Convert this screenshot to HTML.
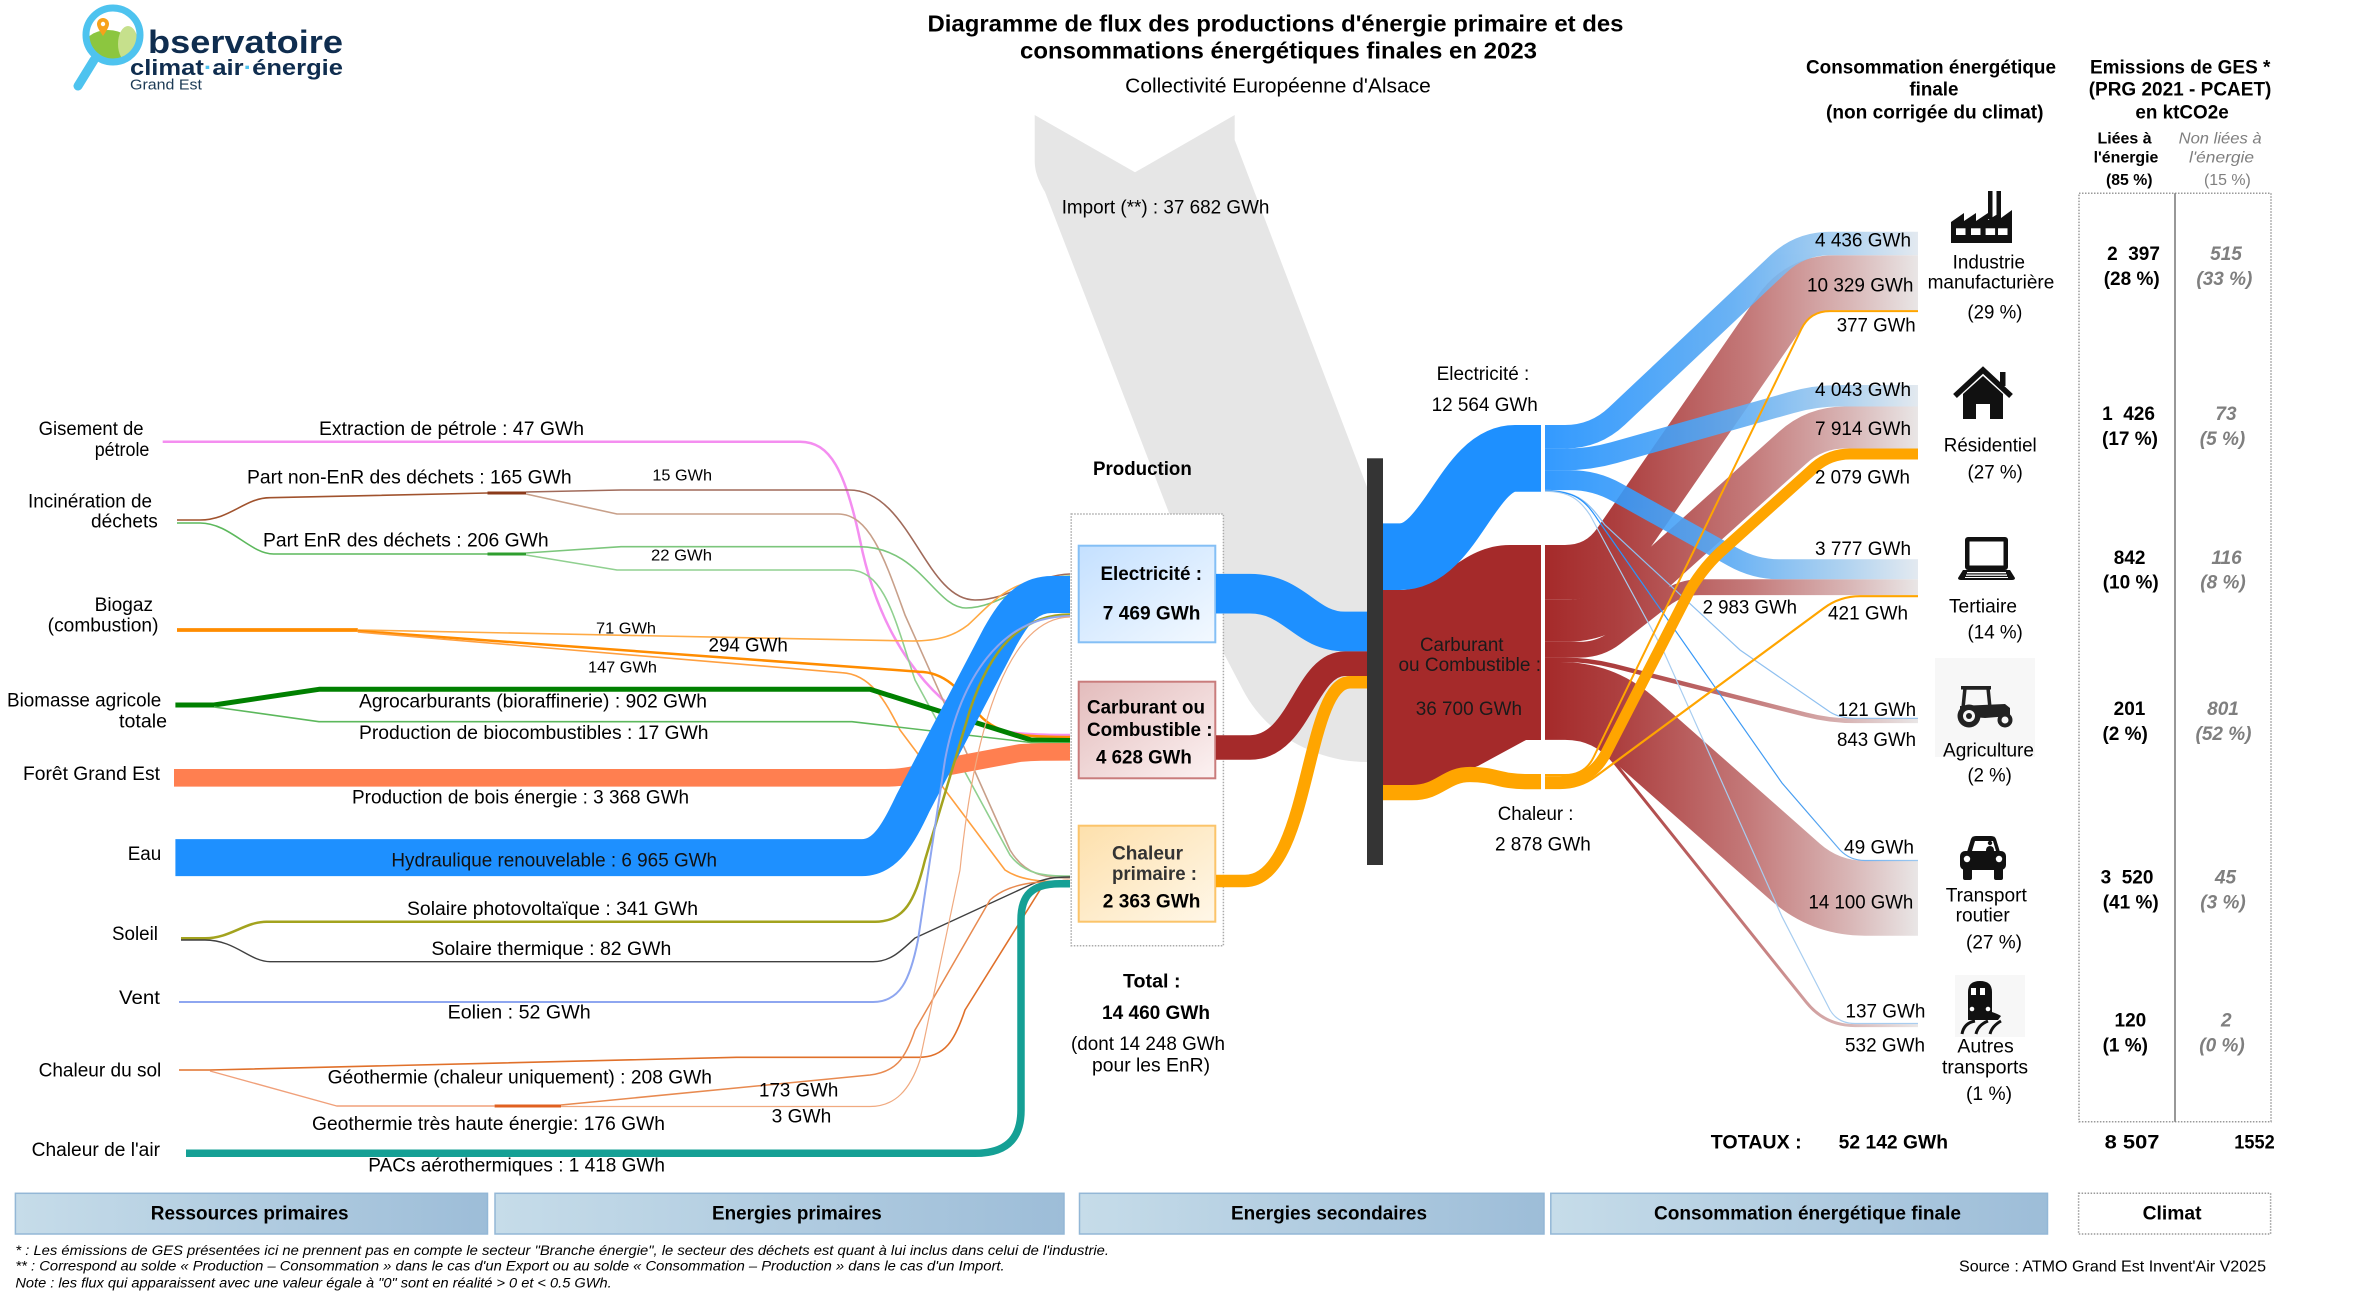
<!DOCTYPE html>
<html><head><meta charset="utf-8"><style>
html,body{margin:0;padding:0;background:#fff;}
svg{display:block}
text{font-family:"Liberation Sans",Arial,sans-serif;font-size:19px;fill:#000}
.b{font-weight:bold}
.s{font-size:16px}
.h{font-size:16px}
.g{fill:#7f7f7f;font-style:italic}
.fn{font-size:13.5px;font-style:italic}
</style></head><body>
<svg width="2370" height="1299" viewBox="0 0 2370 1299" xmlns="http://www.w3.org/2000/svg">
<defs>
<linearGradient id="gr" gradientUnits="userSpaceOnUse" x1="1545" y1="0" x2="1918" y2="0">
<stop offset="0" stop-color="#a52a2a"/><stop offset="0.2" stop-color="#ad4040"/><stop offset="0.55" stop-color="#c47a7a"/><stop offset="0.82" stop-color="#d9b7b7"/><stop offset="1" stop-color="#e9e6e6"/></linearGradient>
<linearGradient id="gb" gradientUnits="userSpaceOnUse" x1="1545" y1="0" x2="1918" y2="0">
<stop offset="0" stop-color="#1e90ff"/><stop offset="0.5" stop-color="#5aaaf3"/><stop offset="0.8" stop-color="#a6cdee"/><stop offset="1" stop-color="#e0e7ee"/></linearGradient>
<linearGradient id="gt" gradientUnits="userSpaceOnUse" x1="1545" y1="0" x2="1918" y2="0">
<stop offset="0" stop-color="#1e90ff"/><stop offset="0.7" stop-color="#4a9ef0"/><stop offset="1" stop-color="#9cc8f0"/></linearGradient>
<linearGradient id="fbox" x1="0" y1="0" x2="1" y2="0"><stop offset="0" stop-color="#c6dce9"/><stop offset="1" stop-color="#9dbdd8"/></linearGradient>
<linearGradient id="elb" x1="0" y1="0" x2="1" y2="1"><stop offset="0" stop-color="#c4e0ff"/><stop offset="1" stop-color="#f3f9ff"/></linearGradient>
<linearGradient id="cab" x1="0" y1="0" x2="1" y2="1"><stop offset="0" stop-color="#e3bcbc"/><stop offset="1" stop-color="#fcf2f2"/></linearGradient>
<linearGradient id="chb" x1="0" y1="0" x2="1" y2="1"><stop offset="0" stop-color="#fde0ac"/><stop offset="1" stop-color="#fff7e8"/></linearGradient>
<clipPath id="lc"><circle cx="113" cy="35" r="24"/></clipPath>
</defs>

<!-- LOGO -->
<g>
<g clip-path="url(#lc)">
<rect x="85" y="8" width="60" height="60" fill="#fff"/>
<ellipse cx="108" cy="50" rx="26" ry="20" fill="#8cc63f"/>
<ellipse cx="128" cy="44" rx="10" ry="18" fill="#c6e08c"/>
</g>
<circle cx="113" cy="35" r="27" fill="none" stroke="#4ec3ef" stroke-width="7"/>
<line x1="94" y1="60" x2="78" y2="86" stroke="#4ec3ef" stroke-width="9" stroke-linecap="round"/>
<path d="M103,36 C99,30 97,27 97,24 A6,6 0 0 1 109,24 C109,27 107,30 103,36 Z" fill="#f7a21b"/>
<circle cx="103" cy="24" r="2.2" fill="#fff"/>
<text class="b" x="148" y="53" style="font-size:32px;fill:#0f2d4f" textLength="195" lengthAdjust="spacingAndGlyphs">bservatoire</text>
<text class="b" x="130" y="75" style="font-size:22px;fill:#0f2d4f" textLength="213" lengthAdjust="spacingAndGlyphs">climat<tspan style="fill:#4ec3ef">·</tspan>air<tspan style="fill:#4ec3ef">·</tspan>énergie</text>
<text x="130" y="89.5" style="font-size:15px;fill:#1c3a55" textLength="72" lengthAdjust="spacingAndGlyphs">Grand Est</text>
</g>

<!-- TITLE -->
<text class="b" x="1275.5" y="31.7" text-anchor="middle" style="font-size:23px" textLength="696" lengthAdjust="spacingAndGlyphs">Diagramme de flux des productions d'énergie primaire et des</text>
<text class="b" x="1278.5" y="58.3" text-anchor="middle" style="font-size:23px" textLength="517" lengthAdjust="spacingAndGlyphs">consommations énergétiques finales en 2023</text>
<text x="1278" y="92.7" text-anchor="middle" style="font-size:20px" textLength="305.6" lengthAdjust="spacingAndGlyphs">Collectivité Européenne d'Alsace</text>

<!-- IMPORT grey -->
<path d="M1034.7,115 L1135,172.3 L1234.7,115 L1234.7,140 L1367,487 L1367,762 C1320,762 1268,738 1243,690 L1222,650 L1045,192 C1037,178 1034.7,170 1034.7,160 Z" fill="#e6e6e6"/>
<text x="1061.7" y="213.3" textLength="207.7" lengthAdjust="spacingAndGlyphs">Import (**) : 37 682 GWh</text>

<!-- Production container -->
<rect x="1071.2" y="514" width="152.2" height="431.7" fill="#fff" stroke="#aaa" stroke-width="1.5" stroke-dasharray="1.5,1.5"/>

<!-- LEFT FLOWS -->
<g fill="none" stroke-linejoin="round">
<!-- pink extraction -->
<path d="M162.7,441.7 L800,441.7 C830,441.7 845,470 860,540 C880,640 930,700 980,725 C1010,735 1040,735 1070,735" stroke="#f48ef0" stroke-width="2.5"/>
<!-- incineration brown -->
<path d="M177,520 L200,520 C230,520 245,497.7 270,497.7 L487.5,493" stroke="#a0522d" stroke-width="1.6"/>
<path d="M487.5,493 L526,493" stroke="#8b3a1a" stroke-width="3"/>
<path d="M526,492 L621,490 L849,490 C910,490 925,600 975,600 C1010,600 1035,575 1070,574" stroke="#a06a5a" stroke-width="1.6"/>
<path d="M526,494 L617,514 L838,514 C870,514 885,560 905,615 L1010,850 C1025,875 1045,878 1070,878" stroke="#c8a08a" stroke-width="1.6"/>
<!-- incineration green -->
<path d="M177,523 L200,523 C230,523 250,554 273.6,554 L487.5,554" stroke="#5cb85c" stroke-width="1.6"/>
<path d="M487.5,554 L526,554" stroke="#2e9e2e" stroke-width="3"/>
<path d="M526,553 L621,546.7 L858.9,546.7 C920,546.7 935,608 966,608 C1000,608 1030,576 1070,576" stroke="#7cc67c" stroke-width="1.6"/>
<path d="M526,555 L617,570 L848.8,570 C885,570 895,620 915,680 L1010,855 C1025,875 1045,876 1070,876" stroke="#90d090" stroke-width="1.6"/>
<!-- biogaz -->
<path d="M177,630 L357.8,630" stroke="#ff8c00" stroke-width="3.7"/>
<path d="M357.8,630 L912,641 C940,641 955,635 968,625 C995,600 1010,577 1070,577" stroke="#ffaa44" stroke-width="1.6"/>
<path d="M357.8,631 L919,671.7 C945,672 960,690 975,710 C995,735 1020,737 1070,737" stroke="#ff8c00" stroke-width="2.5"/>
<path d="M357.8,632 L841.8,672.7 C870,674 885,700 900,730 L1005,870 C1020,880 1040,882 1070,882" stroke="#ffa040" stroke-width="1.6"/>
<!-- biomasse -->
<path d="M175.4,705 L214,705 L319,689.3 L870,689.3 L1031,740 L1070,740.5" stroke="#008000" stroke-width="5"/>
<path d="M214,707 L319,721.7 L852,721.7 L1031,742.5 L1070,743" stroke="#5cb85c" stroke-width="1.6"/>
<!-- foret -->
<path d="M174,777.8 L885,777.8 C905,777.8 915,775 940,768 L1020,753 C1035,751.8 1045,751.8 1070,751.8" stroke="#ff7f50" stroke-width="17.7"/>
<!-- eau -->
<path d="M175.4,857.6 L862,857.6 C885,857.6 898,835 913,803 L1000,637 C1015,610 1028,594.5 1052,594.5 L1070,594.5" stroke="#1e90ff" stroke-width="37"/>
<!-- soleil -->
<path d="M181,938.3 L205,938.3 C230,938.3 245,921.7 266.6,921.7 L875,921.7 C905,921.7 915,900 925,860 L970,710 C990,650 1020,614.5 1070,614.5" stroke="#a3a31e" stroke-width="2.5"/>
<path d="M181,940 L205,940 C235,940 250,961.7 270,961.7 L873,961.7 C890,961.7 900,952 915,938 L1030,885 C1045,878 1055,877 1070,877" stroke="#404040" stroke-width="1.4"/>
<!-- vent -->
<path d="M179,1002 L873,1002 C900,1002 910,980 918,940 L945,760 C960,680 1000,616 1070,616" stroke="#8ea6f0" stroke-width="2"/>
<!-- chaleur du sol -->
<path d="M179,1070 L210,1070 L736.6,1057.3 L919,1057.3 C945,1057.3 955,1040 965,1010 L1040,890 C1050,882 1060,880 1070,880.5" stroke="#e0702a" stroke-width="1.6"/>
<path d="M210,1071 L336.7,1106 L494.6,1106" stroke="#f0a07a" stroke-width="1.4"/>
<path d="M494.6,1106 L561,1106" stroke="#e06020" stroke-width="3"/>
<path d="M561,1105 L870,1075 C895,1072 905,1060 915,1030 L990,900 C1010,882 1040,881 1070,881" stroke="#e88a50" stroke-width="1.5"/>
<path d="M561,1106.5 L870,1106.5 C895,1106.5 910,1090 920,1060 L960,870 C975,720 1010,618 1070,617" stroke="#f0aa80" stroke-width="1.2"/>
<!-- chaleur air -->
<path d="M186,1153.3 L975,1153.3 C1005,1153.3 1021,1140 1021,1110 L1021,920 C1021,895 1032,883.7 1060,883.7 L1070,883.7" stroke="#15a095" stroke-width="7.5"/>
</g>

<!-- Left source labels -->
<text x="38.6" y="435" textLength="105" lengthAdjust="spacingAndGlyphs">Gisement de</text>
<text x="94.7" y="456" textLength="54.7" lengthAdjust="spacingAndGlyphs">pétrole</text>
<text x="28" y="507.3" textLength="124" lengthAdjust="spacingAndGlyphs">Incinération de</text>
<text x="91" y="527.3" textLength="66.8" lengthAdjust="spacingAndGlyphs">déchets</text>
<text x="94.7" y="611" textLength="58.3" lengthAdjust="spacingAndGlyphs">Biogaz</text>
<text x="47.7" y="631.7" textLength="110.8" lengthAdjust="spacingAndGlyphs">(combustion)</text>
<text x="7" y="706.7" textLength="154.3" lengthAdjust="spacingAndGlyphs">Biomasse agricole</text>
<text x="119" y="727.3" textLength="48" lengthAdjust="spacingAndGlyphs">totale</text>
<text x="23" y="780" textLength="137" lengthAdjust="spacingAndGlyphs">Forêt Grand Est</text>
<text x="127.7" y="860" textLength="33.6" lengthAdjust="spacingAndGlyphs">Eau</text>
<text x="112" y="940" textLength="46" lengthAdjust="spacingAndGlyphs">Soleil</text>
<text x="119" y="1004" textLength="41" lengthAdjust="spacingAndGlyphs">Vent</text>
<text x="38.6" y="1076.7" textLength="122.7" lengthAdjust="spacingAndGlyphs">Chaleur du sol</text>
<text x="31.6" y="1156" textLength="128.4" lengthAdjust="spacingAndGlyphs">Chaleur de l'air</text>

<!-- Flow labels -->
<text x="319" y="435" textLength="265" lengthAdjust="spacingAndGlyphs">Extraction de pétrole :  47 GWh</text>
<text x="247" y="483.3" textLength="324.7" lengthAdjust="spacingAndGlyphs">Part non-EnR des déchets :  165 GWh</text>
<text class="s" x="652.4" y="480.7" textLength="59.6" lengthAdjust="spacingAndGlyphs">15 GWh</text>
<text x="263" y="546.7" textLength="285.6" lengthAdjust="spacingAndGlyphs">Part EnR des déchets :  206 GWh</text>
<text class="s" x="651" y="560.7" textLength="61" lengthAdjust="spacingAndGlyphs">22 GWh</text>
<text class="s" x="596" y="633.3" textLength="60" lengthAdjust="spacingAndGlyphs">71 GWh</text>
<text x="708.5" y="651.7" textLength="79.3" lengthAdjust="spacingAndGlyphs">294 GWh</text>
<text class="s" x="588" y="672.7" textLength="69" lengthAdjust="spacingAndGlyphs">147 GWh</text>
<text x="359" y="707.3" textLength="348" lengthAdjust="spacingAndGlyphs">Agrocarburants (bioraffinerie) :  902 GWh</text>
<text x="359" y="739" textLength="349.5" lengthAdjust="spacingAndGlyphs">Production de biocombustibles :  17 GWh</text>
<text x="352" y="803.3" textLength="337" lengthAdjust="spacingAndGlyphs">Production de bois énergie : 3 368 GWh</text>
<text x="391.4" y="866.7" textLength="325.6" lengthAdjust="spacingAndGlyphs" style="fill:#111">Hydraulique renouvelable : 6 965 GWh</text>
<text x="407" y="915" textLength="291" lengthAdjust="spacingAndGlyphs">Solaire photovoltaïque :  341 GWh</text>
<text x="431.4" y="955" textLength="239.9" lengthAdjust="spacingAndGlyphs">Solaire thermique :  82 GWh</text>
<text x="447.6" y="1018.3" textLength="143.1" lengthAdjust="spacingAndGlyphs">Eolien :  52 GWh</text>
<text x="327.6" y="1083.3" textLength="384.4" lengthAdjust="spacingAndGlyphs">Géothermie (chaleur uniquement) :  208 GWh</text>
<text x="759" y="1096.7" textLength="79.3" lengthAdjust="spacingAndGlyphs">173 GWh</text>
<text x="771.7" y="1122.7" textLength="59.6" lengthAdjust="spacingAndGlyphs">3 GWh</text>
<text x="312" y="1130" textLength="353" lengthAdjust="spacingAndGlyphs">Geothermie très haute énergie:  176 GWh</text>
<text x="368.3" y="1171.7" textLength="296.7" lengthAdjust="spacingAndGlyphs">PACs aérothermiques : 1 418 GWh</text>

<!-- Production boxes -->
<text class="b" x="1093" y="475" textLength="98.8" lengthAdjust="spacingAndGlyphs">Production</text>
<rect x="1078.7" y="545.7" width="136.6" height="96.6" fill="url(#elb)" stroke="#84bff5" stroke-width="2"/>
<text class="b" x="1100.5" y="580" textLength="101.5" lengthAdjust="spacingAndGlyphs">Electricité :</text>
<text class="b" x="1102.8" y="619.3" textLength="97.6" lengthAdjust="spacingAndGlyphs">7 469 GWh</text>
<rect x="1078.7" y="681.7" width="136.6" height="96.6" fill="url(#cab)" stroke="#c97c7c" stroke-width="2"/>
<text class="b" x="1087" y="713.3" textLength="118" lengthAdjust="spacingAndGlyphs">Carburant ou</text>
<text class="b" x="1087" y="736" textLength="125.5" lengthAdjust="spacingAndGlyphs">Combustible :</text>
<text class="b" x="1096" y="763.3" textLength="95.8" lengthAdjust="spacingAndGlyphs">4 628 GWh</text>
<rect x="1078.7" y="825.7" width="136.6" height="96" fill="url(#chb)" stroke="#fbc46a" stroke-width="2"/>
<text class="b" x="1112" y="859.3" textLength="71" lengthAdjust="spacingAndGlyphs" style="fill:#333">Chaleur</text>
<text class="b" x="1112" y="880" textLength="85" lengthAdjust="spacingAndGlyphs" style="fill:#333">primaire :</text>
<text class="b" x="1102.8" y="907.3" textLength="97.6" lengthAdjust="spacingAndGlyphs">2 363 GWh</text>

<text class="b" x="1123" y="987.3" textLength="57.5" lengthAdjust="spacingAndGlyphs">Total :</text>
<text class="b" x="1102" y="1019" textLength="108" lengthAdjust="spacingAndGlyphs">14 460 GWh</text>
<text x="1071" y="1050" textLength="154" lengthAdjust="spacingAndGlyphs">(dont 14 248 GWh</text>
<text x="1092" y="1071.7" textLength="118" lengthAdjust="spacingAndGlyphs">pour les EnR)</text>

<!-- Box to bar flows -->
<g fill="none">
<path d="M1216,593.7 L1250,593.7 C1295,593.7 1305,631.5 1345,631.5 L1368,631.5" stroke="#1e90ff" stroke-width="39.7"/>
<path d="M1216,747.5 L1250,747.5 C1300,747.5 1305,663.7 1345,663.7 L1368,663.7" stroke="#a52a2a" stroke-width="24.6"/>
<path d="M1216,881 L1245,881 C1310,881 1305,682.3 1350,682.3 L1368,682.3" stroke="#ffa500" stroke-width="12.5"/>
</g>

<!-- Right of bar: secondary blocks -->
<path d="M1383,590 L1400,590 C1440,590 1460,545 1510,545 L1541,545 L1541,740 L1526,740 L1478,766 C1460,772 1445,785 1420,785 L1383,785 Z" fill="#a52a2a"/>
<path d="M1383,556.7 L1400,556.7 C1450,556.7 1468,458.4 1515,458.4 L1542,458.4" fill="none" stroke="#1e90ff" stroke-width="66.7"/>
<path d="M1383,792.6 L1412,792.6 C1440,792.6 1445,774.5 1470,774.5 C1495,774.5 1500,781.6 1525,781.6 L1542,781.6" fill="none" stroke="#ffa500" stroke-width="15.3"/>
<rect x="1541" y="415" width="4" height="385" fill="#fff"/>

<!-- bar -->
<rect x="1367" y="458.3" width="16" height="406.7" fill="#343434"/>

<!-- Right flows: red -->
<g fill="none" stroke="url(#gr)">
<path stroke-width="54.8" d="M1545,572.4 L1565,572.4 Q1600,572.4 1619.9,543.6 L1780.1,311.5 Q1800,282.7 1835,282.7 L1918,282.7"/>
<path stroke-width="42" d="M1545,620.8 L1565,620.8 Q1600,620.8 1622.3,600.7 L1792.7,447.6 Q1815,427.5 1845,427.5 L1918,427.5"/>
<path stroke-width="15.8" d="M1545,649.7 L1580,649.7 Q1600,649.7 1615.8,637.4 L1664.2,599.5 Q1680,587.2 1700,587.2 L1918,587.2"/>
<path stroke-width="4.5" d="M1545,659.9 L1565,659.9 Q1590,659.9 1614.2,666.1 L1805.8,714.7 Q1830,720.9 1855,720.9 L1918,720.9"/>
<path stroke-width="75" d="M1545,699.5 L1560,699.5 Q1600,699.5 1630,726 L1795,871.7 Q1825,898.2 1865,898.2 L1918,898.2"/>
<path stroke-width="3" d="M1545,738.4 L1565,738.4 Q1595,738.4 1613.8,761.8 L1806.3,1002.2 Q1825,1025.6 1855,1025.6 L1918,1025.6"/>
</g>
<!-- blue -->
<g fill="none" stroke="url(#gb)" opacity="0.9">
<path stroke-width="23.6" d="M1545,436.8 L1565,436.8 Q1595,436.8 1616.8,416.2 L1778.2,264.1 Q1800,243.5 1830,243.5 L1918,243.5"/>
<path stroke-width="21.5" d="M1545,459.4 L1565,459.4 Q1590,459.4 1614,452.6 L1791,402.6 Q1815,395.8 1840,395.8 L1918,395.8"/>
<path stroke-width="20" d="M1545,480.1 L1570,480.1 Q1595,480.1 1616.8,492.3 L1733.2,557.1 Q1755,569.3 1780,569.3 L1918,569.3"/>
</g>
<g fill="none" stroke-width="1.2">
<path stroke="#8fc0f0" d="M1545,490.4 C1580,490.4 1590,505 1605,525 L1740,650 L1830,712 Q1840,718.3 1855,718.3 L1918,718.3"/>
<path stroke="url(#gt)" d="M1545,490.9 C1575,490.9 1585,500 1598,520 L1782,783 L1840,850 Q1850,860.5 1865,860.5 L1918,860.5"/>
<path stroke="#a8cdf0" d="M1545,491.3 C1570,491.3 1580,500 1590,515 L1663,650 L1782,916.7 L1830,1010 Q1838,1023.5 1855,1023.5 L1918,1023.5"/>
</g>
<!-- orange -->
<g fill="none" stroke="#ffa500" stroke-linejoin="round">
<path stroke-width="2" d="M1545,775 L1565,775 Q1585,775 1593.7,757 L1801.3,329.1 Q1810,311.1 1830,311.1 L1918,311.1"/>
<path stroke-width="11" d="M1545,781.6 L1560,781.6 Q1590,781.6 1605,755 L1690,590 Q1705,565 1725,548 L1815,467 Q1830,454 1850,454 L1918,454"/>
<path stroke-width="2.2" d="M1545,788 L1560,788 Q1580,788 1596.1,776.1 L1823.9,608.1 Q1840,596.2 1860,596.2 L1918,596.2"/>
</g>

<!-- Secondary labels -->
<text x="1436.6" y="380" textLength="92.7" lengthAdjust="spacingAndGlyphs">Electricité :</text>
<text x="1431.6" y="411" textLength="106.2" lengthAdjust="spacingAndGlyphs">12 564 GWh</text>
<text x="1420" y="651" textLength="83.5" lengthAdjust="spacingAndGlyphs" style="fill:#1a1a1a">Carburant</text>
<text x="1398.5" y="671" textLength="142.5" lengthAdjust="spacingAndGlyphs" style="fill:#1a1a1a">ou Combustible :</text>
<text x="1415.7" y="715" textLength="106.3" lengthAdjust="spacingAndGlyphs" style="fill:#1a1a1a">36 700 GWh</text>
<text x="1497.8" y="820" textLength="75.7" lengthAdjust="spacingAndGlyphs">Chaleur :</text>
<text x="1495" y="850.7" textLength="95.8" lengthAdjust="spacingAndGlyphs">2 878 GWh</text>

<!-- Consumer value labels -->
<text x="1815" y="246.7" textLength="96" lengthAdjust="spacingAndGlyphs">4 436 GWh</text>
<text x="1807" y="291.7" textLength="106.4" lengthAdjust="spacingAndGlyphs">10 329 GWh</text>
<text x="1836.7" y="331.7" textLength="79" lengthAdjust="spacingAndGlyphs">377 GWh</text>
<text x="1815" y="396" textLength="96" lengthAdjust="spacingAndGlyphs">4 043 GWh</text>
<text x="1815" y="435" textLength="96" lengthAdjust="spacingAndGlyphs">7 914 GWh</text>
<text x="1815" y="483.3" textLength="95" lengthAdjust="spacingAndGlyphs">2 079 GWh</text>
<text x="1815" y="555" textLength="96" lengthAdjust="spacingAndGlyphs">3 777 GWh</text>
<text x="1828" y="619.3" textLength="80" lengthAdjust="spacingAndGlyphs">421 GWh</text>
<text x="1702.6" y="613.3" textLength="94.4" lengthAdjust="spacingAndGlyphs">2 983 GWh</text>
<text x="1837.8" y="716" textLength="78.2" lengthAdjust="spacingAndGlyphs">121 GWh</text>
<text x="1837" y="746" textLength="79" lengthAdjust="spacingAndGlyphs">843 GWh</text>
<text x="1844" y="853.3" textLength="70" lengthAdjust="spacingAndGlyphs">49 GWh</text>
<text x="1808.5" y="908.3" textLength="104.8" lengthAdjust="spacingAndGlyphs">14 100 GWh</text>
<text x="1845.5" y="1017.7" textLength="79.9" lengthAdjust="spacingAndGlyphs">137 GWh</text>
<text x="1845" y="1051.7" textLength="80" lengthAdjust="spacingAndGlyphs">532 GWh</text>

<!-- Header right -->
<text class="b" x="1806" y="73.3" textLength="250" lengthAdjust="spacingAndGlyphs">Consommation énergétique</text>
<text class="b" x="1909.4" y="95.7" textLength="49.1" lengthAdjust="spacingAndGlyphs">finale</text>
<text class="b" x="1826" y="118.3" textLength="217.5" lengthAdjust="spacingAndGlyphs">(non corrigée du climat)</text>
<text class="b" x="2090" y="73.3" textLength="180.4" lengthAdjust="spacingAndGlyphs">Emissions de GES *</text>
<text class="b" x="2088.7" y="95.7" textLength="182.7" lengthAdjust="spacingAndGlyphs">(PRG 2021 - PCAET)</text>
<text class="b" x="2135.4" y="118.3" textLength="93.3" lengthAdjust="spacingAndGlyphs">en ktCO2e</text>
<text class="b h" x="2097.5" y="143.3" textLength="54.1" lengthAdjust="spacingAndGlyphs">Liées à</text>
<text class="b h" x="2093.6" y="162.7" textLength="64.8" lengthAdjust="spacingAndGlyphs">l'énergie</text>
<text class="b h" x="2106" y="185" textLength="46.5" lengthAdjust="spacingAndGlyphs">(85 %)</text>
<text class="h g" x="2178.6" y="143.3" textLength="83" lengthAdjust="spacingAndGlyphs">Non liées à</text>
<text class="h g" x="2189" y="162.7" textLength="65" lengthAdjust="spacingAndGlyphs">l'énergie</text>
<text class="h g" x="2204" y="185" textLength="46.8" lengthAdjust="spacingAndGlyphs" style="font-style:normal">(15 %)</text>

<!-- Table -->
<rect x="2079" y="193.3" width="192" height="928.4" fill="none" stroke="#9a9a9a" stroke-width="1.5" stroke-dasharray="1.5,1.5"/>
<line x1="2175" y1="193.3" x2="2175" y2="1121.7" stroke="#777" stroke-width="1.5"/>
<g class="b" text-anchor="middle">
<text class="b" x="2133.5" y="260" text-anchor="middle" xml:space="preserve">2  397</text>
<text class="b" x="2131.7" y="285" text-anchor="middle">(28 %)</text>
<text class="b" x="2128.5" y="420" text-anchor="middle" xml:space="preserve">1  426</text>
<text class="b" x="2130" y="445" text-anchor="middle">(17 %)</text>
<text class="b" x="2129.6" y="564" text-anchor="middle">842</text>
<text class="b" x="2130.7" y="588.3" text-anchor="middle">(10 %)</text>
<text class="b" x="2129.5" y="715" text-anchor="middle">201</text>
<text class="b" x="2125.2" y="740" text-anchor="middle">(2 %)</text>
<text class="b" x="2127" y="883.3" text-anchor="middle" xml:space="preserve">3  520</text>
<text class="b" x="2130.7" y="908.3" text-anchor="middle">(41 %)</text>
<text class="b" x="2130.4" y="1026.7" text-anchor="middle">120</text>
<text class="b" x="2125.3" y="1051.7" text-anchor="middle">(1 %)</text>
</g>
<g>
<text class="b g" x="2226" y="260" text-anchor="middle">515</text>
<text class="b g" x="2224.4" y="285" text-anchor="middle">(33 %)</text>
<text class="b g" x="2226" y="420" text-anchor="middle">73</text>
<text class="b g" x="2222.5" y="445" text-anchor="middle">(5 %)</text>
<text class="b g" x="2226.5" y="564" text-anchor="middle">116</text>
<text class="b g" x="2223" y="588.3" text-anchor="middle">(8 %)</text>
<text class="b g" x="2223" y="715" text-anchor="middle">801</text>
<text class="b g" x="2223.5" y="740" text-anchor="middle">(52 %)</text>
<text class="b g" x="2225.5" y="883.3" text-anchor="middle">45</text>
<text class="b g" x="2223" y="908.3" text-anchor="middle">(3 %)</text>
<text class="b g" x="2226.3" y="1026.7" text-anchor="middle">2</text>
<text class="b g" x="2222" y="1051.7" text-anchor="middle">(0 %)</text>
</g>

<!-- Icons -->
<g fill="#111">
<!-- factory -->
<rect x="1988" y="191" width="4.5" height="28"/><rect x="1996.5" y="191" width="4.5" height="28"/>
<path d="M1951,243 L1951,222 L1964,213 L1964,221 L1976,213 L1976,221 L1988,213 L1988,220 L2001,212 L2001,218 L2012,210 L2012,243 Z"/>
<g fill="#fff"><rect x="1956" y="228.3" width="9.5" height="6.7"/><rect x="1971" y="228.3" width="9.5" height="6.7"/><rect x="1985.6" y="228.3" width="9.5" height="6.7"/><rect x="1998" y="228.3" width="9.5" height="6.7"/></g>
<!-- house -->
<path d="M1955,396 L1983,370 L2011,396" fill="none" stroke="#111" stroke-width="5.5" stroke-linejoin="miter"/>
<rect x="2000" y="372" width="5.5" height="14"/>
<path d="M1963,394 L1983,376 L2003,394 L2003,419 L1963,419 Z"/>
<rect x="1976" y="404" width="14" height="15.5" fill="#fff"/>
<!-- laptop -->
<rect x="1965" y="537" width="43" height="33" rx="3"/>
<rect x="1969.5" y="541.5" width="34" height="24" fill="#fff"/>
<path d="M1963,570 L2010,570 L2015,578 Q2015,580 2012,580 L1961,580 Q1958,580 1958,578 Z"/>
<g fill="#fff"><rect x="1967" y="572" width="39" height="1.3"/><rect x="1966" y="574.5" width="41" height="1.3"/><rect x="1965" y="577" width="43" height="1"/></g>
<!-- tractor -->
<rect x="1935" y="658" width="100" height="99" fill="#f7f7f7"/>
<path d="M1963,708 L1965,688 L1988,688 L1990,708" fill="none" stroke="#222" stroke-width="3.5"/>
<rect x="1961" y="686" width="30" height="3.5" fill="#222"/>
<path d="M1960,706 L2005,704 L2010,708 L2010,716 L1985,718 L1960,716 Z" fill="#222"/>
<circle cx="1969" cy="716" r="11.5" fill="#222"/><circle cx="1969" cy="716" r="6" fill="#f7f7f7"/><circle cx="1969" cy="716" r="3" fill="#222"/>
<circle cx="2005" cy="720" r="7.5" fill="#222"/><circle cx="2005" cy="720" r="3.5" fill="#f7f7f7"/>
<!-- car -->
<path d="M1967,852 L1971,839 Q1972,836 1976,836 L1991,836 Q1995,836 1996,839 L2000,852 Z"/>
<path d="M1972,851 L1975,841 L1993,841 L1996,851 Z" fill="#fff"/>
<circle cx="1990" cy="843" r="2.2"/><path d="M1986,851 Q1986,846 1990,846 Q1994,846 1994,851 Z"/>
<rect x="1960" y="851" width="46" height="19" rx="5"/>
<circle cx="1967" cy="859" r="3.2" fill="#fff"/><circle cx="1999" cy="859" r="3.2" fill="#fff"/>
<rect x="1963" y="866" width="9" height="14" rx="2"/><rect x="1994" y="866" width="9" height="14" rx="2"/>
<!-- train -->
<rect x="1955" y="975" width="70" height="62" fill="#f7f7f7"/>
<path d="M1968,1015 L1968,992 Q1968,981 1980,981 Q1992,981 1992,992 L1992,1012 Q1998,1014 2001,1016 L1998,1020 L1968,1020 Z"/>
<rect x="1971" y="988" width="5" height="7" fill="#fff"/><rect x="1980" y="988" width="5" height="7" fill="#fff"/>
<circle cx="1972" cy="1009" r="2.3" fill="#fff"/><circle cx="1988" cy="1009" r="2.3" fill="#fff"/>
<path d="M1962,1034 Q1964,1023 1975,1021 M1976,1034 Q1978,1025 1988,1021 M1990,1034 Q1992,1026 2001,1021" fill="none" stroke="#111" stroke-width="3"/>
</g>

<!-- Consumer names -->
<text x="1952.6" y="268.3" textLength="72.4" lengthAdjust="spacingAndGlyphs">Industrie</text>
<text x="1927.6" y="288.3" textLength="126.7" lengthAdjust="spacingAndGlyphs">manufacturière</text>
<text x="1967.4" y="318.3" textLength="55" lengthAdjust="spacingAndGlyphs">(29 %)</text>
<text x="1943.8" y="451.7" textLength="92.9" lengthAdjust="spacingAndGlyphs">Résidentiel</text>
<text x="1967.5" y="478.3" textLength="55.3" lengthAdjust="spacingAndGlyphs">(27 %)</text>
<text x="1949" y="612.7" textLength="68" lengthAdjust="spacingAndGlyphs">Tertiaire</text>
<text x="1967.5" y="638.3" textLength="55.3" lengthAdjust="spacingAndGlyphs">(14 %)</text>
<text x="1943" y="756.7" textLength="91" lengthAdjust="spacingAndGlyphs">Agriculture</text>
<text x="1967.5" y="781.7" textLength="44.3" lengthAdjust="spacingAndGlyphs">(2 %)</text>
<text x="1945.7" y="901.7" textLength="81.1" lengthAdjust="spacingAndGlyphs">Transport</text>
<text x="1955.6" y="921.7" textLength="54.2" lengthAdjust="spacingAndGlyphs">routier</text>
<text x="1966" y="948.3" textLength="56" lengthAdjust="spacingAndGlyphs">(27 %)</text>
<text x="1957.4" y="1052.7" textLength="56.4" lengthAdjust="spacingAndGlyphs">Autres</text>
<text x="1942" y="1073.3" textLength="86" lengthAdjust="spacingAndGlyphs">transports</text>
<text x="1966" y="1100" textLength="46" lengthAdjust="spacingAndGlyphs">(1 %)</text>

<!-- Totals -->
<text class="b" x="1710.8" y="1148.3" textLength="90.9" lengthAdjust="spacingAndGlyphs">TOTAUX :</text>
<text class="b" x="1838.7" y="1148.3" textLength="109.3" lengthAdjust="spacingAndGlyphs">52 142 GWh</text>
<text class="b" x="2104.7" y="1148.3" textLength="54.7" lengthAdjust="spacingAndGlyphs">8 507</text>
<text class="b" x="2234.3" y="1148.3" textLength="40.4" lengthAdjust="spacingAndGlyphs">1552</text>

<!-- Footer boxes -->
<rect x="15.4" y="1193.3" width="472.1" height="40.7" fill="url(#fbox)" stroke="#93b7d6" stroke-width="1.5"/>
<rect x="495" y="1193.3" width="569" height="40.7" fill="url(#fbox)" stroke="#93b7d6" stroke-width="1.5"/>
<rect x="1079.5" y="1193.3" width="464.5" height="40.7" fill="url(#fbox)" stroke="#93b7d6" stroke-width="1.5"/>
<rect x="1550.8" y="1193.3" width="496.7" height="40.7" fill="url(#fbox)" stroke="#93b7d6" stroke-width="1.5"/>
<rect x="2078.6" y="1193.3" width="192" height="40.7" fill="#fff" stroke="#999" stroke-width="1.5" stroke-dasharray="1.5,1.5"/>
<text class="b" x="150.8" y="1219.3" textLength="197.8" lengthAdjust="spacingAndGlyphs">Ressources primaires</text>
<text class="b" x="712" y="1219.3" textLength="169.8" lengthAdjust="spacingAndGlyphs">Energies primaires</text>
<text class="b" x="1231" y="1219.3" textLength="196" lengthAdjust="spacingAndGlyphs">Energies secondaires</text>
<text class="b" x="1654" y="1219.3" textLength="307" lengthAdjust="spacingAndGlyphs">Consommation énergétique finale</text>
<text class="b" x="2142.6" y="1219.3" textLength="58.9" lengthAdjust="spacingAndGlyphs">Climat</text>

<!-- Footnotes -->
<text class="fn" x="15.4" y="1255" textLength="1093.6" lengthAdjust="spacingAndGlyphs">* : Les émissions de GES présentées ici ne prennent pas en compte le secteur "Branche énergie", le secteur des déchets est quant à lui inclus dans celui de l'industrie.</text>
<text class="fn" x="15.4" y="1270.7" textLength="989.2" lengthAdjust="spacingAndGlyphs">** : Correspond au solde « Production – Consommation » dans le cas d'un Export ou au solde « Consommation – Production » dans le cas d'un Import.</text>
<text class="fn" x="15.4" y="1287.3" textLength="596.3" lengthAdjust="spacingAndGlyphs">Note : les flux qui apparaissent avec une valeur égale à "0" sont en réalité &gt; 0 et &lt; 0.5 GWh.</text>
<text x="1959" y="1271.7" style="font-size:16px" textLength="307" lengthAdjust="spacingAndGlyphs">Source : ATMO Grand Est Invent'Air V2025</text>
</svg>
</body></html>
